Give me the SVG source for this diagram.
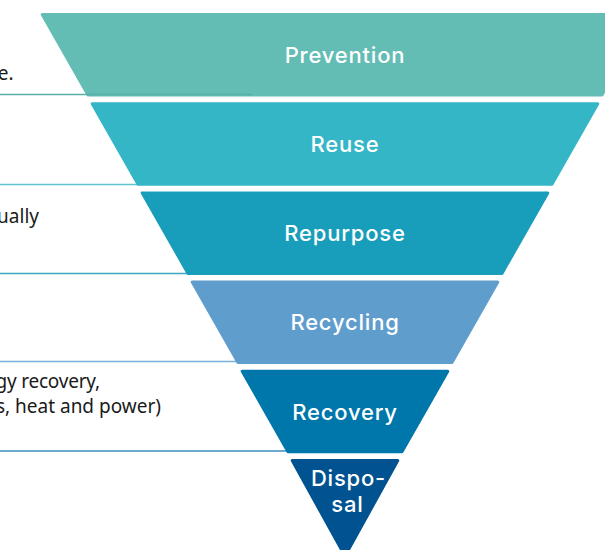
<svg xmlns="http://www.w3.org/2000/svg" width="605" height="550" viewBox="0 0 605 550">
  <style>
    .band { stroke-width: 3; stroke-linejoin: round; }
    .label { font-family: Inter, "Open Sans", sans-serif; font-weight: 500; font-size: 22px; letter-spacing: 0.8px; fill: #ffffff; text-anchor: middle; }
    .note { font-family: "Noto Sans", "Open Sans", sans-serif; font-size: 19px; fill: #1a1a1a; text-anchor: end; }
    .rule { stroke-width: 1.5; fill: none; }
  </style>
  <rect width="605" height="550" fill="#ffffff"/>

  <!-- side notes (cut off at the left edge) -->
  <g id="notes">
    <text class="note" x="13.5" y="80">e.</text>
    <text class="note" x="39" y="223">ually</text>
    <text class="note" x="100" y="388" letter-spacing="-0.2">gy recovery,</text>
    <text class="note" x="161" y="413">s, heat and power)</text>
  </g>

  <!-- separator rules between the tiers -->
  <g id="connectors">
    <line class="rule" x1="0" y1="184.5" x2="140" y2="184.5" stroke="#5cc3cf"/>
    <line class="rule" x1="0" y1="273.5" x2="190" y2="273.5" stroke="#3aa9c2"/>
    <line class="rule" x1="0" y1="361.5" x2="238" y2="361.5" stroke="#79afd8"/>
    <line class="rule" x1="0" y1="451" x2="288" y2="451" stroke="#3a8cbf"/>
  </g>

  <g id="prevention">
    <polygon class="band" fill="#63bdb5" stroke="#63bdb5" points="42.2,14.5 647.8,14.5 602,95 88,95"/>
    <text class="label" x="345" y="62.5">Prevention</text>
  </g>
  <line class="rule" x1="0" y1="94.5" x2="252" y2="94.5" stroke="#58b0a9"/>

  <g id="reuse">
    <polygon class="band" fill="#34b6c7" stroke="#34b6c7" points="92.2,103.7 597.8,103.7 552,184.2 138,184.2"/>
    <text class="label" x="345" y="152">Reuse</text>
  </g>

  <g id="repurpose">
    <polygon class="band" fill="#189eba" stroke="#189eba" points="142.2,192.9 547.8,192.9 502,273.4 188,273.4"/>
    <text class="label" x="345" y="241">Repurpose</text>
  </g>

  <g id="recycling">
    <polygon class="band" fill="#5f9dcc" stroke="#5f9dcc" points="192.2,282.1 497.8,282.1 452,362.6 238,362.6"/>
    <text class="label" x="345" y="330">Recycling</text>
  </g>

  <g id="recovery">
    <polygon class="band" fill="#0077aa" stroke="#0077aa" points="242.2,371.3 447.8,371.3 402,451.8 288,451.8"/>
    <text class="label" x="345" y="420">Recovery</text>
  </g>

  <g id="disposal">
    <polygon class="band" fill="#005390" stroke="#005390" points="292.2,460.5 397.8,460.5 345,556"/>
    <text class="label" x="348.5" y="486">Dispo-</text>
    <text class="label" x="347.5" y="511.5">sal</text>
  </g>
</svg>
